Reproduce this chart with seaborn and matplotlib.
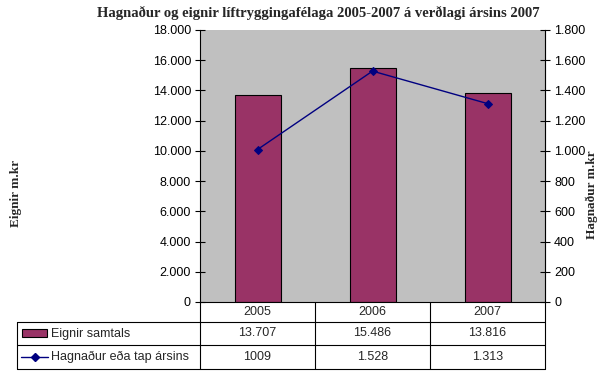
import numpy as np
import pandas as pd
import matplotlib
matplotlib.use("Agg")
import matplotlib.pyplot as plt
import seaborn as sns

# data
years = ["2005", "2006", "2007"]
eignir = [13707, 15486, 13816]
hagnadur = [1009, 1528, 1313]
eignir_labels = ["13.707", "15.486", "13.816"]
hagnadur_labels = ["1009", "1.528", "1.313"]
left_ticks = [0, 2000, 4000, 6000, 8000, 10000, 12000, 14000, 16000, 18000]
right_ticks = [0, 200, 400, 600, 800, 1000, 1200, 1400, 1600, 1800]

bar_color = "#993366"
line_color = "#000080"
sans = "Liberation Sans"
serif = "Liberation Serif"


def dotfmt(v):
    return f"{v:,.0f}".replace(",", ".")


sns.set_style("white")
plt.rcParams["font.family"] = [sans, "DejaVu Sans"]

W, H = 606, 371
fig = plt.figure(figsize=(W / 100, H / 100), dpi=100)
fig.patch.set_facecolor("white")

# plot area in pixels
x0, x1, y0, y1 = 200, 545, 30, 302
ax = fig.add_axes([x0 / W, 1 - y1 / H, (x1 - x0) / W, (y1 - y0) / H])
ax.set_facecolor("#C0C0C0")

df = pd.DataFrame({"year": years, "eignir": eignir, "hagnadur": hagnadur})
sns.barplot(data=df, x="year", y="eignir", color=bar_color, width=0.4,
            edgecolor="black", linewidth=0.8, saturation=1, ax=ax)
ax.set_ylim(0, 18000)
ax.set_xlim(-0.5, 2.5)
ax.set_yticks(left_ticks)
ax.set_yticklabels([dotfmt(t) for t in left_ticks], fontsize=9)
ax.set_xticks([])
ax.set_xlabel("")
ax.set_ylabel("")

ax2 = ax.twinx()
sns.lineplot(x=np.arange(len(years)), y=hagnadur, color=line_color, marker="D",
             markersize=4, linewidth=1, markeredgecolor=line_color, ax=ax2)
ax2.set_ylim(0, 1800)
ax2.set_xlim(-0.5, 2.5)
ax2.set_yticks(right_ticks)
ax2.set_yticklabels([dotfmt(t) for t in right_ticks], fontsize=9)

for a in (ax, ax2):
    a.tick_params(axis="y", direction="inout", length=7, width=0.8, pad=3, colors="black")
    for sp in a.spines.values():
        sp.set_linewidth(0.8)
        sp.set_color("black")
    a.spines["top"].set_visible(False)
    a.spines["bottom"].set_visible(False)
ax.spines["right"].set_color("#808080")
ax2.spines["left"].set_visible(False)
ax.yaxis.set_ticks_position("left")

fig.text(318 / W, 1 - 13 / H, "Hagnaður og eignir líftryggingafélaga 2005-2007 á verðlagi ársins 2007",
         ha="center", va="center", fontsize=10.5, fontweight="bold", family=serif)
fig.text(16 / W, 1 - 193 / H, "Eignir m.kr", rotation=90, ha="center", va="center",
         fontsize=9.5, fontweight="bold", family=serif)
fig.text(592 / W, 1 - 195 / H, "Hagnaður m.kr", rotation=90, ha="center", va="center",
         fontsize=9.5, fontweight="bold", family=serif)

# data table under the plot
tab = fig.add_axes([0, 0, 1, 1], zorder=5)
tab.set_xlim(0, W)
tab.set_ylim(H, 0)
tab.axis("off")
tab.patch.set_alpha(0)

col_w = (x1 - x0) / len(years)
rows = [302, 322, 345, 369]
lw = 0.8
for yy in rows:
    xs = x0 if yy == rows[0] else 17
    tab.plot([xs, x1], [yy, yy], color="black", lw=lw)
for i in range(len(years) + 1):
    xx = x0 + i * col_w
    tab.plot([xx, xx], [rows[0], rows[-1]], color="black", lw=lw)
tab.plot([17, 17], [rows[1], rows[-1]], color="black", lw=lw)

for i, yr in enumerate(years):
    cx = x0 + (i + 0.5) * col_w
    tab.text(cx, (rows[0] + rows[1]) / 2, yr, ha="center", va="center", fontsize=9)
    tab.text(cx, (rows[1] + rows[2]) / 2, eignir_labels[i], ha="center", va="center", fontsize=9)
    tab.text(cx, (rows[2] + rows[3]) / 2, hagnadur_labels[i], ha="center", va="center", fontsize=9)

# legend keys inside the table
tab.add_patch(plt.Rectangle((22, 329), 25, 8, facecolor=bar_color, edgecolor="black", lw=0.8))
tab.text(51, (rows[1] + rows[2]) / 2, "Eignir samtals", ha="left", va="center", fontsize=9)
tab.plot([21, 48], [357, 357], color=line_color, lw=1)
tab.plot([34.5], [357], marker="D", color=line_color, markersize=4)
tab.text(51, (rows[2] + rows[3]) / 2, "Hagnaður eða tap ársins", ha="left", va="center", fontsize=9)

fig.savefig("out.png", dpi=100)
